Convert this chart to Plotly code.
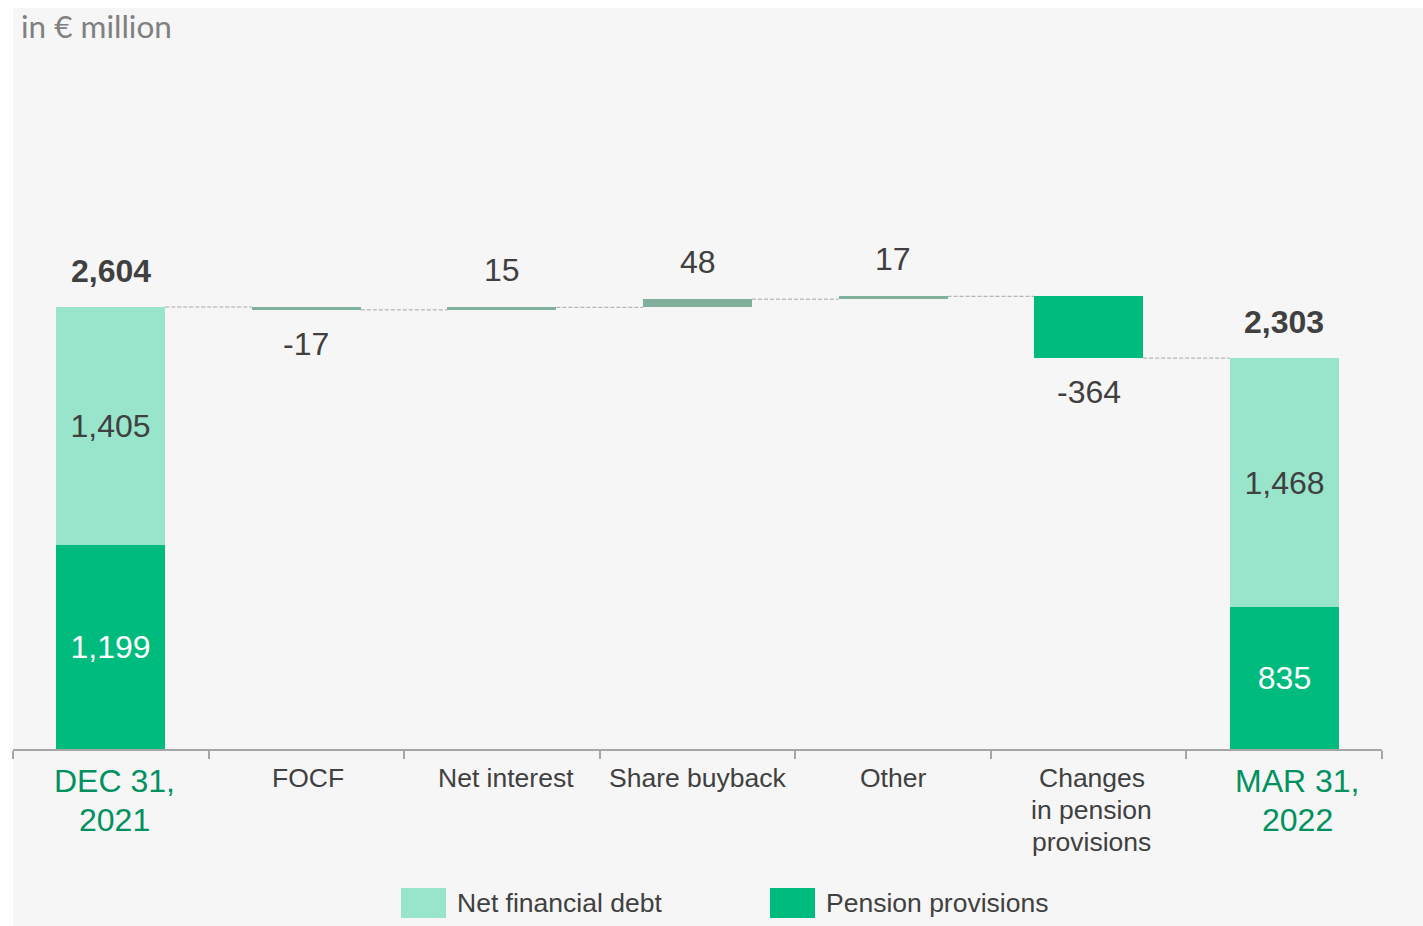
import plotly.graph_objects as go

# ---------------- data ----------------
categories = ["DEC 31, 2021", "FOCF", "Net interest", "Share buyback", "Other",
              "Changes in pension provisions", "MAR 31, 2022"]
tick_labels = ["DEC 31,<br>2021", "FOCF", "Net interest", "Share buyback", "Other",
               "Changes<br>in pension<br>provisions", "MAR 31,<br>2022"]
series_names = ["Net financial debt", "Pension provisions"]
net_financial_debt = [1405, None, None, None, None, None, 1468]
pension_provisions = [1199, None, None, None, None, None, 835]
change_values = [None, -17, 15, 48, 17, -364, None]
change_series = [None, "minor", "minor", "minor", "minor", "pension", None]

# ---------------- styles ----------------
C_LIGHT = "#99e5cb"
C_DARK = "#00bb7e"
C_MINOR = "#7fb09c"
C_TEXT = "#404040"
C_DATE = "#00915e"
C_AXIS = "#a6a6a6"
C_BG = "#f6f6f6"
FONT = "Liberation Sans, Arial, sans-serif"
BAR_W = 0.557
VAL_SIZE = 32
CAT_SIZE = 26.5
DATE_SIZE = 32
label_xshift = [4, 2, 4, 0, 0, 3, 13]

W, H = 1423, 926
ML, MR, MT, MB = 13, 41, 40, 177
PW, PH = W - ML - MR, H - MT - MB


def px2x(px):
    return (px - ML) / PW


def py2y(py):
    return (H - MB - py) / PH


n = len(categories)
totals = [None] * n
for i in range(n):
    if net_financial_debt[i] is not None:
        totals[i] = net_financial_debt[i] + pension_provisions[i]

# running levels for the waterfall
levels = [None] * n
change_base = [None] * n
running = None
for i in range(n):
    if totals[i] is not None:
        running = totals[i]
    else:
        change_base[i] = running
        running = running + change_values[i]
    levels[i] = running

fig = go.Figure()

# pension (bottom) segment of totals
fig.add_trace(go.Bar(
    x=categories, y=pension_provisions, base=[0 if v is not None else None for v in pension_provisions],
    name=series_names[1], marker=dict(color=C_DARK, line=dict(width=0)), width=BAR_W,
    text=[f"{v:,}" if v is not None else "" for v in pension_provisions],
    textposition="inside", insidetextanchor="middle", textangle=0,
    textfont=dict(family=FONT, size=VAL_SIZE, color="white"),
    showlegend=False, hoverinfo="skip",
))
# net financial debt (top) segment of totals
fig.add_trace(go.Bar(
    x=categories, y=net_financial_debt, base=pension_provisions,
    name=series_names[0], marker=dict(color=C_LIGHT, line=dict(width=0)), width=BAR_W,
    text=[f"{v:,}" if v is not None else "" for v in net_financial_debt],
    textposition="inside", insidetextanchor="middle", textangle=0,
    textfont=dict(family=FONT, size=VAL_SIZE, color=C_TEXT),
    showlegend=False, hoverinfo="skip",
))
# change bars
fig.add_trace(go.Bar(
    x=categories, y=change_values, base=change_base,
    marker=dict(color=[C_DARK if s == "pension" else C_MINOR for s in change_series], line=dict(width=0)),
    width=BAR_W, showlegend=False, hoverinfo="skip",
))

annotations = []
shapes = []

# value labels outside bars
for i in range(n):
    if totals[i] is not None:
        annotations.append(dict(x=categories[i], y=totals[i], xref="x", yref="y",
                                text=f"<b>{totals[i]:,}</b>", showarrow=False,
                                yanchor="middle", yshift=36,
                                font=dict(family=FONT, size=VAL_SIZE, color=C_TEXT)))
    else:
        v = change_values[i]
        end = change_base[i] + v
        annotations.append(dict(x=categories[i], y=end, xref="x", yref="y",
                                text=f"{v}", showarrow=False,
                                yanchor="middle", yshift=37 if v > 0 else -34,
                                font=dict(family=FONT, size=VAL_SIZE, color=C_TEXT)))

# category labels (one annotation per line for tighter line spacing)
for i, lab in enumerate(tick_labels):
    is_date = totals[i] is not None
    size = DATE_SIZE if is_date else CAT_SIZE
    spacing = 39 if is_date else 32
    for k, line in enumerate(lab.split("<br>")):
        annotations.append(dict(x=categories[i], y=0, xref="x", yref="paper",
                                text=line, showarrow=False, xanchor="center", yanchor="top",
                                yshift=-12 - k * spacing, xshift=label_xshift[i],
                                font=dict(family=FONT, size=size,
                                          color=C_DATE if is_date else C_TEXT)))

# connectors
for i in range(n - 1):
    shapes.append(dict(type="line", xref="x", yref="y",
                       x0=i + BAR_W / 2, x1=i + 1 - BAR_W / 2,
                       y0=levels[i], y1=levels[i],
                       line=dict(color=C_AXIS, width=1, dash="4px,2px"), layer="above"))

# background panel
shapes.append(dict(type="rect", xref="paper", yref="paper",
                   x0=px2x(13), x1=px2x(1423), y0=py2y(926), y1=py2y(8),
                   fillcolor=C_BG, line=dict(width=0), layer="below"))

# unit label
annotations.append(dict(x=px2x(19), y=py2y(26), xref="paper", yref="paper",
                        xanchor="left", yanchor="middle", showarrow=False,
                        text="in € million",
                        font=dict(family="Lato, Carlito, sans-serif", size=31.5, color="#808080")))

# legend (manual)
legend_items = [(series_names[0], C_LIGHT, 401), (series_names[1], C_DARK, 770)]
for name, col, x0 in legend_items:
    shapes.append(dict(type="rect", xref="paper", yref="paper",
                       x0=px2x(x0), x1=px2x(x0 + 45), y0=py2y(918), y1=py2y(888),
                       fillcolor=col, line=dict(width=0)))
    annotations.append(dict(x=px2x(x0 + 54), y=py2y(903), xref="paper", yref="paper",
                            xanchor="left", yanchor="middle", showarrow=False, text=name,
                            font=dict(family=FONT, size=CAT_SIZE, color=C_TEXT)))

fig.update_layout(
    width=W, height=H,
    margin=dict(l=ML, r=MR, t=MT, b=MB),
    paper_bgcolor="white", plot_bgcolor="rgba(0,0,0,0)",
    barmode="overlay", bargap=0,
    showlegend=False,
    xaxis=dict(type="category", categoryorder="array", categoryarray=categories,
               tickvals=categories, showticklabels=False, tickson="boundaries",
               ticks="outside", ticklen=8, tickwidth=2, tickcolor=C_AXIS,
               showline=True, linecolor=C_AXIS, linewidth=2, showgrid=False,
               range=[-0.5, n - 0.5], fixedrange=True),
    yaxis=dict(range=[0, PH / (442 / 2604)], visible=False, fixedrange=True),
    annotations=annotations, shapes=shapes,
)

fig.write_html("out.html")
